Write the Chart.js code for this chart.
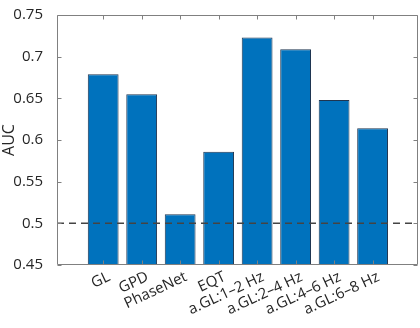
<!DOCTYPE html>
<html>
<head>
<meta charset="utf-8">
<script src="https://cdn.jsdelivr.net/npm/chart.js@4/dist/chart.umd.min.js"></script>
<style>
  html, body { margin: 0; padding: 0; background: #fff; }
</style>
</head>
<body>
<canvas id="auc" width="420" height="328"></canvas>
<script>
// values
const methods = ['GL', 'GPD', 'PhaseNet', 'EQT', 'a.GL:1–2 Hz', 'a.GL:2–4 Hz', 'a.GL:4–6 Hz', 'a.GL:6–8 Hz'];
const aucValues = [0.679, 0.655, 0.511, 0.586, 0.723, 0.709, 0.648, 0.614];
const chanceLevel = 0.5;
const yTicks = [0.45, 0.5, 0.55, 0.6, 0.65, 0.7, 0.75];
const xRange = [-0.2, 9.18];

const FONT = "'Open Sans', 'DejaVu Sans', sans-serif";
const TEXT = '#262626';
const AXIS = '#808080';

// MATLAB style box with inward ticks on all four sides
const boxPlugin = {
    id: 'box',
    afterDatasetsDraw(chart) {
        const ctx = chart.ctx;
        const a = chart.chartArea;
        const xs = chart.scales.x, ys = chart.scales.y;
        const L = Math.round(a.left) + 0.5, R = Math.round(a.right) - 0.5;
        const T = Math.round(a.top) + 0.5, B = Math.round(a.bottom) - 0.5;
        const len = 4;
        ctx.save();
        ctx.strokeStyle = AXIS;
        ctx.lineWidth = 1;
        ctx.beginPath();
        ctx.rect(L, T, R - L, B - T);
        yTicks.forEach(v => {
            let py = Math.round(ys.getPixelForValue(v)) + 0.5;
            ctx.moveTo(L, py); ctx.lineTo(L + len, py);
            ctx.moveTo(R, py); ctx.lineTo(R - len, py);
        });
        methods.forEach((m, i) => {
            let px = Math.round(xs.getPixelForValue(i + 1)) + 0.5;
            ctx.moveTo(px, B); ctx.lineTo(px, B - len);
            ctx.moveTo(px, T); ctx.lineTo(px, T + len);
        });
        ctx.stroke();
        ctx.restore();
    }
};

let ctx = document.getElementById('auc').getContext('2d');
let aucChart = new Chart(ctx, {
    data: {
        datasets: [
            {
                type: 'line',
                label: 'chance',
                data: [{ x: xRange[0], y: chanceLevel }, { x: xRange[1], y: chanceLevel }],
                borderColor: '#444',
                borderWidth: 1.5,
                borderDash: [7, 5],
                pointRadius: 0,
                order: 0
            },
            {
                type: 'bar',
                label: 'AUC',
                data: aucValues.map((v, i) => ({ x: i + 1, y: v })),
                backgroundColor: '#0072BD',
                borderColor: '#1f3550',
                borderWidth: 1,
                borderSkipped: false,
                barPercentage: 0.8,
                categoryPercentage: 1,
                order: 1
            }
        ]
    },
    options: {
        responsive: false,
        animation: false,
        layout: { padding: { top: 5, right: 2, left: 0, bottom: 0 } },
        plugins: {
            legend: { display: false },
            tooltip: { enabled: false }
        },
        scales: {
            x: {
                type: 'linear',
                offset: false,
                min: xRange[0],
                max: xRange[1],
                grid: { display: false, drawTicks: false, offset: false },
                border: { display: false },
                afterBuildTicks: s => { s.ticks = methods.map((m, i) => ({ value: i + 1 })); },
                afterFit: s => { s.height = 63; },
                ticks: {
                    autoSkip: false,
                    minRotation: 25,
                    maxRotation: 25,
                    padding: 3,
                    labelOffset: 6,
                    color: TEXT,
                    font: { family: FONT, size: 15 },
                    callback: v => methods[v - 1]
                }
            },
            y: {
                min: 0.45,
                max: 0.75,
                grid: { display: false },
                border: { display: false },
                afterBuildTicks: s => { s.ticks = yTicks.map(v => ({ value: v })); },
                afterFit: s => { s.width = 57; },
                title: {
                    display: true,
                    text: 'AUC',
                    color: TEXT,
                    padding: 0,
                    font: { family: FONT, size: 16 }
                },
                ticks: {
                    padding: 6,
                    color: TEXT,
                    font: { family: FONT, size: 15 },
                    callback: v => String(v)
                }
            }
        }
    },
    plugins: [boxPlugin]
});
</script>
</body>
</html>
